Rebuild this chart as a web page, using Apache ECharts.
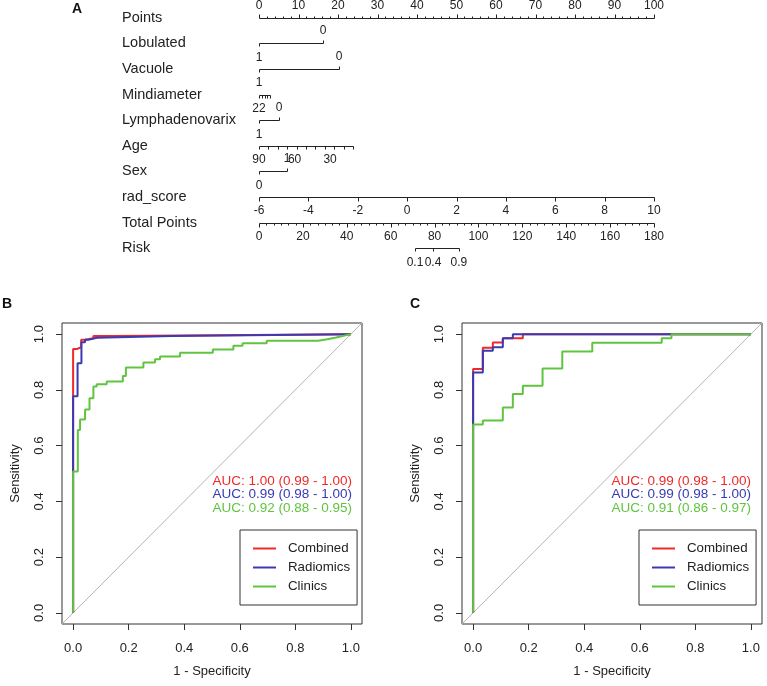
<!DOCTYPE html>
<html><head><meta charset="utf-8">
<script src="https://cdn.jsdelivr.net/npm/echarts@6/dist/echarts.min.js"></script>
<style>html,body{margin:0;padding:0;background:#fff}#c{width:767px;height:686px}</style>
</head><body><div id="c"></div>
<script>
const FONT = "'Liberation Sans', Arial, Helvetica, sans-serif";
const INK = '#222';

// ---------- Panel A: nomogram ----------
const rowNames = ['Points','Lobulated','Vacuole','Mindiameter','Lymphadenovarix','Age','Sex','rad_score','Total Points','Risk'];
const pointsMajor = [0,10,20,30,40,50,60,70,80,90,100];
const pointsMinorStep = 2;
const lobulatedLevels = ['1','0'];   const lobulatedPts = [0, 16.2];
const vacuoleLevels = ['1','0'];     const vacuolePts = [0, 20.3];
const mindiameterLevels = ['22','','','',''];
const mindiameterPts = [0, 0.7, 1.4, 2.1, 2.8];
const lymphLevels = ['1','0'];       const lymphPts = [0, 5.1];
const ageTickPts = [0, 2.38, 4.76, 7.14, 9.52, 11.9, 14.28, 16.66, 19.04, 21.42, 23.8];
const ageLabels = ['90','60','30'];  const ageLabelPts = [0, 9, 18];
const sexLevels = ['0','1'];         const sexPts = [0, 7.1];
const radScoreTicks = [-6,-4,-2,0,2,4,6,8,10];
const radMin = -6, radMax = 10;
const totalPointsTicks = [0,20,40,60,80,100,120,140,160,180];
const totalMax = 180, totalMinorPerMajor = 6;
const riskLabels = ['0.1','0.4','0.9'];
const riskTotalPoints = [71.1, 79.3, 91.1];

// ---------- Panels B and C: ROC ----------
const seriesNames = ['Combined','Radiomics','Clinics'];
const seriesColors = ['#ee2a2a','#3a3ab4','#60c440'];
const combinedB = [[0,0],[0,0.947],[0.015,0.947],[0.015,0.953],[0.029,0.953],[0.029,0.98],[0.043,0.98],[0.043,0.985],[0.073,0.985],[0.073,0.993],[0.144,0.993],[0.144,1],[1,1]];
const radiomicsB = [[0,0],[0,0.777],[0.016,0.777],[0.016,0.896],[0.03,0.896],[0.03,0.971],[0.043,0.971],[0.043,0.98],[0.055,0.98],[0.055,0.987],[0.086,0.987],[0.086,0.993],[0.355,0.993],[0.355,1],[1,1]];
const clinicsB = [[0,0],[0,0.507],[0.017,0.507],[0.017,0.656],[0.025,0.656],[0.025,0.694],[0.043,0.694],[0.043,0.73],[0.059,0.73],[0.059,0.77],[0.073,0.77],[0.073,0.812],[0.085,0.812],[0.085,0.82],[0.121,0.82],[0.121,0.83],[0.179,0.83],[0.179,0.85],[0.19,0.85],[0.19,0.88],[0.253,0.88],[0.253,0.898],[0.295,0.898],[0.295,0.91],[0.313,0.91],[0.313,0.92],[0.385,0.92],[0.385,0.933],[0.503,0.933],[0.503,0.945],[0.577,0.945],[0.577,0.958],[0.61,0.958],[0.61,0.967],[0.697,0.967],[0.697,0.976],[0.882,0.976],[0.882,0.982],[0.915,0.982],[0.915,0.988],[0.947,0.988],[0.947,0.993],[1,1]];
const combinedC = [[0,0],[0,0.875],[0.035,0.875],[0.035,0.951],[0.071,0.951],[0.071,0.97],[0.107,0.97],[0.107,0.985],[0.179,0.985],[0.179,1],[1,1]];
const radiomicsC = [[0,0],[0,0.862],[0.035,0.862],[0.035,0.94],[0.071,0.94],[0.071,0.953],[0.107,0.953],[0.107,0.985],[0.143,0.985],[0.143,1],[1,1]];
const clinicsC = [[0,0],[0,0.676],[0.035,0.676],[0.035,0.69],[0.107,0.69],[0.107,0.737],[0.143,0.737],[0.143,0.785],[0.179,0.785],[0.179,0.815],[0.25,0.815],[0.25,0.877],[0.321,0.877],[0.321,0.938],[0.429,0.938],[0.429,0.969],[0.679,0.969],[0.679,0.985],[0.714,0.985],[0.714,1],[1,1]];
const aucB = ['AUC: 1.00 (0.99 - 1.00)','AUC: 0.99 (0.98 - 1.00)','AUC: 0.92 (0.88 - 0.95)'];
const aucC = ['AUC: 0.99 (0.98 - 1.00)','AUC: 0.99 (0.98 - 1.00)','AUC: 0.91 (0.86 - 0.97)'];
const rocTicks = [0, 0.2, 0.4, 0.6, 0.8, 1.0];
const rocMin = -0.04, rocMax = 1.04;

// ---------- build nomogram marks ----------
const radToPts = v => (v - radMin) / (radMax - radMin) * 100;
const totToPts = v => v / totalMax * 100;
const segs = [], marks = [];
function seg(row, x0, x1){ segs.push({row, x0, x1}); }
function mark(row, x, dir, len, text, side){ marks.push({row, x, dir, len, text, side}); }

seg(0, 0, 100);
pointsMajor.forEach(v => mark(0, v, -1, 4, String(v), -1));
for (let v = 0; v < 100; v += pointsMinorStep) if (v % 10) mark(0, v, -1, 2, '', 0);

function binary(row, levels, pts){
  seg(row, pts[0], pts[1]);
  mark(row, pts[0], 1, 3, levels[0], 1);
  mark(row, pts[1], -1, 3, levels[1], -1);
}
binary(1, lobulatedLevels, lobulatedPts);
binary(2, vacuoleLevels, vacuolePts);
seg(3, mindiameterPts[0], mindiameterPts[mindiameterPts.length-1]);
mindiameterPts.forEach((p,i) => mark(3, p, 1, 3, mindiameterLevels[i], 1));
binary(4, lymphLevels, lymphPts);
seg(5, 0, ageTickPts[ageTickPts.length-1]);
ageTickPts.forEach(p => mark(5, p, 1, 3, '', 0));
ageLabels.forEach((t,i) => mark(5, ageLabelPts[i], 1, 0, t, 1));
binary(6, sexLevels, sexPts);
seg(7, radToPts(radMin), radToPts(radMax));
radScoreTicks.forEach(v => mark(7, radToPts(v), 1, 4, String(v), 1));
seg(8, 0, totToPts(totalMax));
totalPointsTicks.forEach((v,i) => {
  mark(8, totToPts(v), 1, 4, String(v), 1);
  if (i < totalPointsTicks.length-1) {
    const step = (totalPointsTicks[i+1]-v)/totalMinorPerMajor;
    for (let k = 1; k < totalMinorPerMajor; k++) mark(8, totToPts(v + k*step), 1, 2, '', 0);
  }
});
seg(9, totToPts(riskTotalPoints[0]), totToPts(riskTotalPoints[riskTotalPoints.length-1]));
riskLabels.forEach((t,i) => mark(9, totToPts(riskTotalPoints[i]), 1, 3, t, 1));

const crisp = v => Math.round(v) + 0.5;

const chart = echarts.init(document.getElementById('c'), null, {renderer:'canvas'});

function rocX(idx){
  return {
    type:'value', gridIndex:idx, min:rocMin, max:rocMax, position:'bottom',
    name:'1 - Specificity', nameLocation:'middle', nameGap:41,
    nameTextStyle:{fontFamily:FONT, fontSize:13, color:INK},
    axisLine:{show:false, onZero:false}, splitLine:{show:false},
    axisTick:{show:true, inside:false, length:6, customValues:rocTicks, lineStyle:{color:'#333'}},
    axisLabel:{customValues:rocTicks, formatter:v=>v.toFixed(1), margin:18, fontFamily:FONT, fontSize:13, color:INK}
  };
}
function rocY(idx){
  return {
    type:'value', gridIndex:idx, min:rocMin, max:rocMax, position:'left',
    name:'Sensitivity', nameLocation:'middle', nameGap:40,
    nameTextStyle:{fontFamily:FONT, fontSize:13, color:INK},
    axisLine:{show:false, onZero:false}, splitLine:{show:false},
    axisTick:{show:true, inside:false, length:6, customValues:rocTicks, lineStyle:{color:'#333'}},
    axisLabel:{customValues:rocTicks, formatter:v=>v.toFixed(1), rotate:90, margin:16, fontFamily:FONT, fontSize:13, color:INK}
  };
}
function rocSeries(idx, datasets){
  const out = [{
    type:'line', xAxisIndex:idx, yAxisIndex:idx, data:[[rocMin,rocMin],[rocMax,rocMax]],
    symbol:'none', silent:true, lineStyle:{color:'#b4b4b4', width:1}, z:1
  }];
  datasets.forEach((d,i) => out.push({
    type:'line', name:seriesNames[i], xAxisIndex:idx, yAxisIndex:idx, data:d,
    symbol:'none', showSymbol:false, color:seriesColors[i],
    lineStyle:{color:seriesColors[i], width:2}, z:2+i
  }));
  return out;
}
function legendAt(left){
  return {
    data:seriesNames, orient:'vertical', left:left, top:530, selectedMode:false,
    icon:'rect', itemWidth:23, itemHeight:2, itemGap:4,
    padding:[11,7,11,13], borderColor:'#333', borderWidth:1, borderRadius:0,
    textStyle:{fontFamily:FONT, fontSize:13.3, color:INK, lineHeight:15, padding:[0,0,0,7]}
  };
}
function aucTexts(list, right){
  return list.map((t,i) => ({
    type:'text', x:right, y:481 + i*13.5,
    style:{text:t, fill:seriesColors[i], font:'13.5px ' + FONT, align:'right', textAlign:'right', verticalAlign:'middle', textVerticalAlign:'middle'}
  }));
}

const option = {
  animation:false,
  backgroundColor:'#fff',
  grid:[
    {left:259, top:5, width:395, height:256},
    {left:62, top:323, width:300, height:301, show:true, borderColor:'#333', borderWidth:1, backgroundColor:'transparent'},
    {left:462, top:323, width:300, height:301, show:true, borderColor:'#333', borderWidth:1, backgroundColor:'transparent'}
  ],
  xAxis:[
    {type:'value', gridIndex:0, min:0, max:100, show:false},
    rocX(1), rocX(2)
  ],
  yAxis:[
    {type:'category', gridIndex:0, data:rowNames, inverse:true,
     axisLine:{show:false}, axisTick:{show:false}, splitLine:{show:false},
     axisLabel:{align:'left', margin:137, fontFamily:FONT, fontSize:14.5, color:INK}},
    rocY(1), rocY(2)
  ],
  legend:[legendAt(240), legendAt(639)],
  graphic:[
    {type:'text', x:77, y:9, style:{text:'A', font:'bold 14px ' + FONT, fill:'#111', align:'center', textAlign:'center', verticalAlign:'middle', textVerticalAlign:'middle'}},
    {type:'text', x:7, y:304, style:{text:'B', font:'bold 14px ' + FONT, fill:'#111', align:'center', textAlign:'center', verticalAlign:'middle', textVerticalAlign:'middle'}},
    {type:'text', x:415, y:304, style:{text:'C', font:'bold 14px ' + FONT, fill:'#111', align:'center', textAlign:'center', verticalAlign:'middle', textVerticalAlign:'middle'}},
    ...aucTexts(aucB, 352),
    ...aucTexts(aucC, 751)
  ],
  series:[
    {
      type:'custom', xAxisIndex:0, yAxisIndex:0, silent:true, clip:false,
      data:segs.map(s => [s.x0, s.row, s.x1]),
      renderItem:(params, api) => {
        const s = segs[params.dataIndex];
        const a = api.coord([s.x0, s.row]), b = api.coord([s.x1, s.row]);
        return {type:'line', shape:{x1:crisp(a[0]), y1:crisp(a[1]), x2:crisp(b[0]), y2:crisp(b[1])}, style:{stroke:INK, lineWidth:1}};
      }
    },
    {
      type:'custom', xAxisIndex:0, yAxisIndex:0, silent:true, clip:false,
      data:marks.map(m => [m.x, m.row]),
      renderItem:(params, api) => {
        const m = marks[params.dataIndex];
        const p = api.coord([m.x, m.row]);
        const x = crisp(p[0]), y = crisp(p[1]);
        const children = [];
        if (m.len) children.push({type:'line', shape:{x1:x, y1:y, x2:x, y2:y + m.dir*m.len}, style:{stroke:INK, lineWidth:1}});
        if (m.text) children.push({type:'text', style:{text:m.text, x:p[0], y:p[1] + (m.side < 0 ? -12.5 : 14), align:'center', verticalAlign:'middle', fontSize:12, fontFamily:FONT, fill:INK}});
        return {type:'group', children};
      }
    },
    ...rocSeries(1, [combinedB, radiomicsB, clinicsB]),
    ...rocSeries(2, [combinedC, radiomicsC, clinicsC])
  ]
};
chart.setOption(option);
</script></body></html>
